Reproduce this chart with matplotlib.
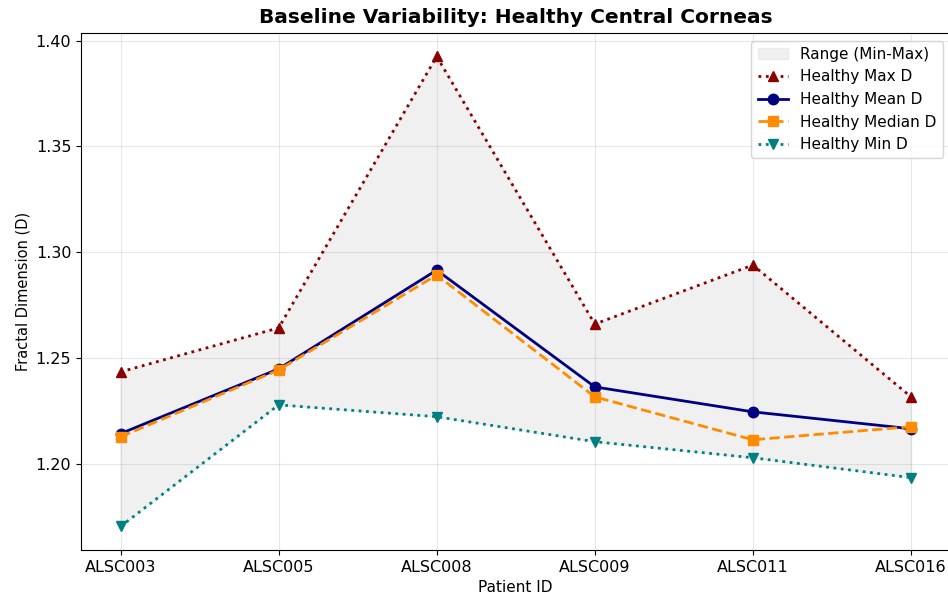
import numpy as np
import matplotlib
matplotlib.use("Agg")
import matplotlib.pyplot as plt

patients = ["ALSC003", "ALSC005", "ALSC008", "ALSC009", "ALSC011", "ALSC016"]
max_d = [1.2434, 1.2642, 1.3925, 1.2660, 1.2939, 1.2316]
mean_d = [1.2142, 1.2448, 1.2915, 1.2363, 1.2245, 1.2165]
median_d = [1.2127, 1.2443, 1.2892, 1.2316, 1.2113, 1.2175]
min_d = [1.1703, 1.2278, 1.2222, 1.2104, 1.2028, 1.1934]

x = np.arange(len(patients))

fig = plt.figure(figsize=(9.48, 5.98), dpi=100)
ax = fig.add_axes([81 / 948, 48 / 598, 869.5 / 948, 517 / 598])

ax.fill_between(x, min_d, max_d, color="lightgray", alpha=0.32, label="Range (Min-Max)")
ax.plot(x, max_d, ":", color="darkred", marker="^", markersize=7.5, linewidth=2, label="Healthy Max D")
ax.plot(x, mean_d, "-", color="navy", marker="o", markersize=7.5, linewidth=2, label="Healthy Mean D")
ax.plot(x, median_d, "--", color="darkorange", marker="s", markersize=7.5, linewidth=2, label="Healthy Median D")
ax.plot(x, min_d, ":", color="teal", marker="v", markersize=7.5, linewidth=2, label="Healthy Min D")

ax.set_xticks(x)
ax.set_xticklabels(patients)
ax.tick_params(labelsize=11.5)
ax.set_xlabel("Patient ID", fontsize=11)
ax.set_ylabel("Fractal Dimension (D)", fontsize=10.5)
ax.set_title("Baseline Variability: Healthy Central Corneas", fontsize=14.5, fontweight="bold", pad=7)
ax.grid(True, alpha=0.3)
ax.legend(loc="upper right", fontsize=11)

fig.savefig("out.png", dpi=100)
